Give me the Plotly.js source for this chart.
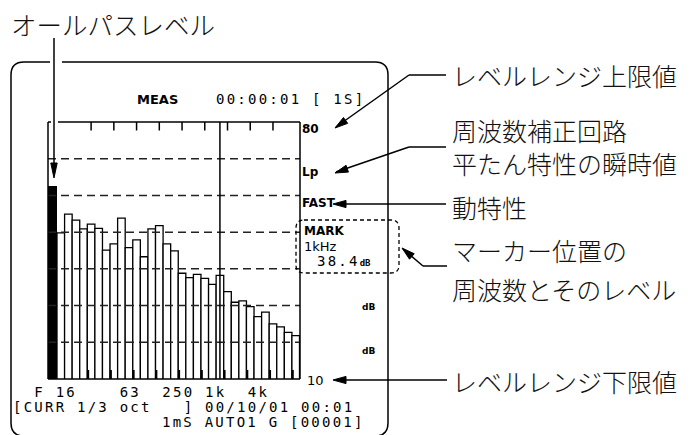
<!DOCTYPE html>
<html><head><meta charset="utf-8">
<script src="https://cdn.plot.ly/plotly-3.0.1.min.js"></script>
<style>html,body{margin:0;padding:0;background:#fff;}#chart{width:696px;height:435px;}</style>
</head><body><div id="chart"></div>
<script>
// ---- data ----
const bands = ['8','10','12.5','16','20','25','31.5','40','50','63','80','100','125','160','200','250','315','400','500','630','800','1k','1.25k','1.6k','2k','2.5k','3.15k','4k','5k','6.3k','8k','10k'];
const levels = [49.8,54.9,53.3,50.9,52.2,51.0,45.1,46.8,53.8,45.8,47.9,43.3,50.9,51.8,46.8,44.9,38.8,37.6,38.5,37.4,35.8,38.2,33.8,30.9,31.3,29.7,27.0,28.2,25.0,24.2,22.7,21.8];
const allPassLevel = 62.6;
const freqTickLabels = ['F','16','63','250','1k','4k'];
const gridLevels = [70,60,50,40,30,20];
const rangeTop = 80, rangeBottom = 10;
const markerBand = '1k';
const markerLevel = '38.4';
const headerMode = 'MEAS', headerTime = '00:00:01 [ 1S]';
const statusLine = '[CURR 1/3 oct   ] 00/10/01 00:01';
const infoLine = '1mS AUTO1 G [00001]';
const jpTitle = 'オールパスレベル';
const jpNotes = ['レベルレンジ上限値','周波数補正回路','平たん特性の瞬時値','動特性','マーカー位置の','周波数とそのレベル','レベルレンジ下限値'];

// ---- geometry ----
const W=696,H=435, PL=48, PR=300, PT=122, PB=379;
const apW=9, lastEdge=299.5;
const barPx=(lastEdge-(PL+apW))/bands.length;
const xr0=-0.5-apW/barPx, xr1=bands.length-0.5+(PR-lastEdge)/barPx;
const X=px=>(px-PL)/(PR-PL);
const Y=py=>(PB-py)/(PB-PT);
const P=(x,y)=>X(x).toFixed(5)+','+Y(y).toFixed(5);
const idx=bands.map((b,i)=>i);

const traces=[
  {type:'bar',x:idx,y:levels,width:1,marker:{color:'#fff',line:{color:'#000',width:1.3}},hoverinfo:'skip'},
  {type:'bar',x:[(xr0-0.5)/2],y:[allPassLevel],width:[-0.5-xr0],marker:{color:'#000',line:{width:0}},hoverinfo:'skip'}
];

const shapes=[];
function ln(x0,y0,x1,y1,w,dash){shapes.push({type:'line',xref:'paper',yref:'paper',x0:X(x0),y0:Y(y0),x1:X(x1),y1:Y(y1),layer:'above',line:{color:'#000',width:w||1.5,dash:dash||'solid'}});}
function head(tx,ty,fx,fy,len,hw){
  len=len||13;hw=hw||3.6;
  const dx=tx-fx,dy=ty-fy,d=Math.hypot(dx,dy),ux=dx/d,uy=dy/d;
  const bx=tx-ux*len,by=ty-uy*len,nx=-uy,ny=ux;
  shapes.push({type:'path',xref:'paper',yref:'paper',layer:'above',path:`M${P(tx,ty)}L${P(bx+nx*hw,by+ny*hw)}L${P(bx-nx*hw,by-ny*hw)}Z`,fillcolor:'#000',line:{color:'#000',width:1}});
}
// dashed level lines
gridLevels.forEach(g=>shapes.push({type:'line',xref:'paper',yref:'y',x0:0,x1:1,y0:g,y1:g,layer:'above',line:{color:'#222',width:1.5,dash:'8px,5px'}}));
// marker line
const mi=bands.indexOf(markerBand);
shapes.push({type:'line',xref:'x',yref:'paper',x0:mi,x1:mi,y0:0,y1:1,layer:'above',line:{color:'#000',width:1.5}});
// top ticks and bottom ticks
for(let i=4;i<bands.length;i+=3){
  if(i<=28) shapes.push({type:'line',xref:'x',yref:'paper',x0:i,x1:i,y0:Y(PT),y1:Y(PT+8.5),layer:'above',line:{color:'#000',width:1.5}});
  shapes.push({type:'line',xref:'x',yref:'paper',x0:i-0.4,x1:i-0.4,y0:Y(PB),y1:Y(PB-9),layer:'above',line:{color:'#000',width:2.2}});
}
// chart frame
ln(58,PT,PR,PT); ln(PL,PT,51,PT); ln(PL,PT,PL,PB); ln(PR,PT,PR,PB); ln(PL,PB,PR,PB);
// outer rounded frame (gap at top for arrow)
shapes.push({type:'path',xref:'paper',yref:'paper',layer:'above',line:{color:'#000',width:1.5},
  path:`M${P(50,62)}L${P(24,62)}Q${P(11,62)} ${P(11,75)}L${P(11,423)}Q${P(11,436)} ${P(24,436)}L${P(375,436)}Q${P(388,436)} ${P(388,423)}L${P(388,75)}Q${P(388,62)} ${P(375,62)}L${P(62,62)}`});
// dashed marker box
shapes.push({type:'path',xref:'paper',yref:'paper',layer:'above',line:{color:'#000',width:1.3,dash:'4px,3px'},
  path:`M${P(304,220)}L${P(391,220)}Q${P(399,220)} ${P(399,228)}L${P(399,265)}Q${P(399,273)} ${P(391,273)}L${P(304,273)}Q${P(296,273)} ${P(296,265)}L${P(296,228)}Q${P(296,220)} ${P(304,220)}Z`});
// arrows
ln(446,75,409,75); ln(409,75,336,127); head(335,128,409,75);
ln(446,147,409,147); ln(409,147,336,172); head(335,173,409,147);
ln(446,204,336,204); head(333,204,446,204);
ln(447,266,423,266); ln(423,266,403,249); head(402,248,423,266);
ln(447,380,336,380); head(333,380,447,380);
ln(54,38,54,170); head(54,178,54,38,15,3.2);

// ---- text ----
const ann=[];
const JP='Noto Sans CJK JP', SANS='DejaVu Sans', MONO='DejaVu Sans Mono';
function T(text,x,y,size,family,weight,color){ann.push({xref:'paper',yref:'paper',x:X(x),y:Y(y),xanchor:'left',yanchor:'middle',showarrow:false,borderpad:0,text:text,font:{family:family,size:size,color:color||'#000',weight:weight||400}});}
const mono=(s,sp)=>`<span style="letter-spacing:${sp}px">${s.replace(/ /g,'\u00a0')}</span>`;
const pitch=10.67, monoSize=14, sp=(pitch-0.602*monoSize).toFixed(2);

T(jpTitle,10,23,25.5,JP,300,'#111');
const jpPos=[[451,75],[451,130],[451,163],[451,207],[451,250],[451,289],[451,381]];
jpNotes.forEach((t,i)=>T(t,jpPos[i][0],jpPos[i][1],25,JP,300,'#111'));

T(headerMode,136,99,13,SANS,700);
T(mono(headerTime,sp),215,99,monoSize,MONO);

const tickCols=[2,4,10,14,18,22];
let line1='';freqTickLabels.forEach((t,i)=>{while(line1.length<tickCols[i])line1+=' ';line1+=t;});
T(mono(line1,sp),12,392,monoSize,MONO);
T(mono(statusLine,sp),12,407,monoSize,MONO);
T(mono(infoLine,sp),12+14*pitch,422,monoSize,MONO);

T(String(rangeTop),301,129,12,SANS,700);
T('Lp',301,172,12,SANS,700);
T('FAST',301,203,12,SANS,700);
T('MARK',303,231,12,SANS,700);
T(markerBand+'Hz',303,246,13,SANS);
T(mono(markerLevel,sp)+'<span style="font-size:9px;font-weight:bold;letter-spacing:0px">dB</span>',316,261,monoSize,MONO);
T('dB',361,307,9,SANS,700);
T('dB',361,351,9,SANS,700);
T(String(rangeBottom),306,380,13,SANS);

const layout={width:W,height:H,margin:{l:PL,r:W-PR,t:PT,b:H-PB,pad:0},paper_bgcolor:'#fff',plot_bgcolor:'#fff',showlegend:false,barmode:'overlay',
  xaxis:{range:[xr0,xr1],showgrid:false,zeroline:false,showticklabels:false,ticks:'',showline:false},
  yaxis:{range:[rangeBottom,rangeTop],showgrid:false,zeroline:false,showticklabels:false,ticks:'',showline:false},
  shapes:shapes,annotations:ann};
Plotly.newPlot('chart',traces,layout,{staticPlot:true,displayModeBar:false});
</script></body></html>
